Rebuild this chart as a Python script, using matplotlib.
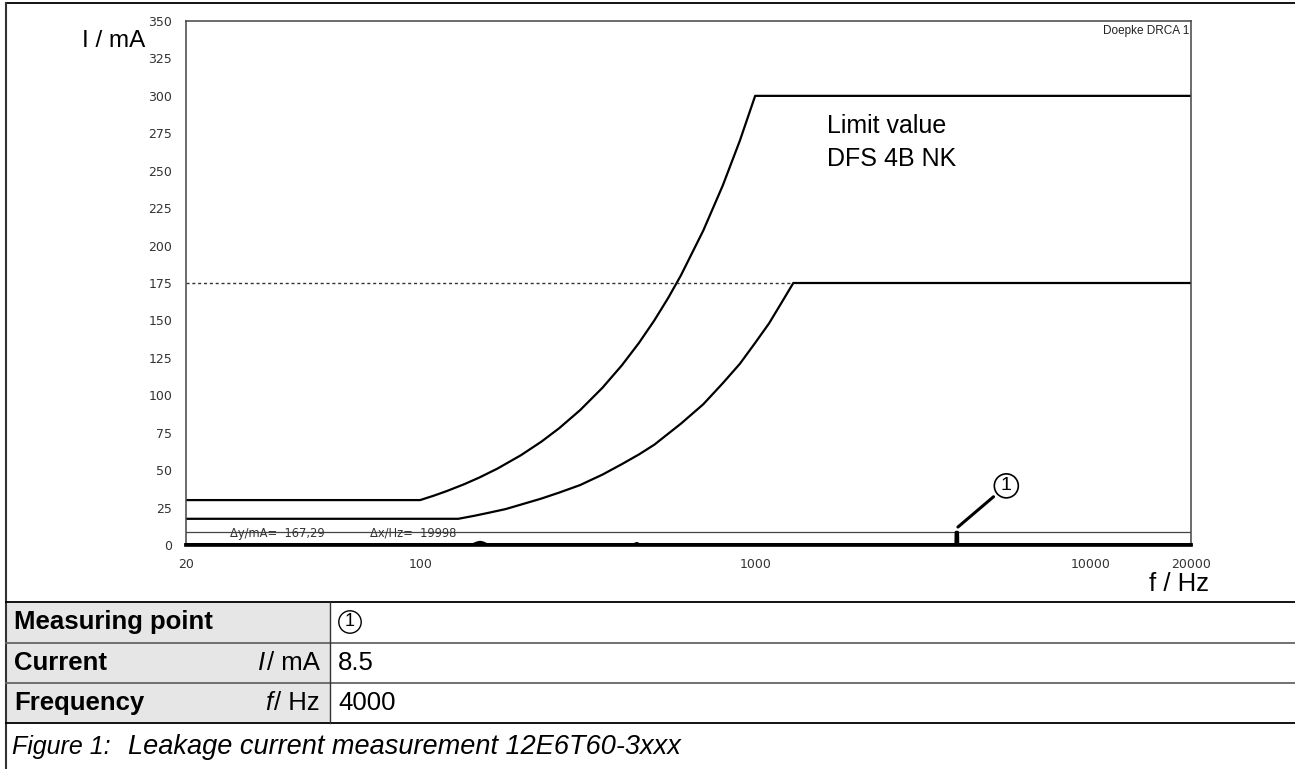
import matplotlib.pyplot as plt
import numpy as np

# limit curve DFS 4B NK (upper) and the lower limit curve
f_upper = [20, 100, 110, 120, 135, 150, 170, 200, 230, 260, 300, 350, 400, 450, 500, 550,
           600, 700, 800, 900, 1000, 20000]
i_upper = [30, 30, 33, 36, 40.5, 45, 51, 60, 69, 78, 90, 105, 120, 135, 150, 165,
           180, 210, 240, 270, 300, 300]
f_lower = [20, 130, 145, 160, 180, 200, 230, 260, 300, 350, 400, 450, 500, 600, 700, 800,
           900, 1000, 1100, 1200, 1300, 20000]
i_lower = [17.5, 17.5, 19.5, 21.5, 24, 27, 31, 35, 40, 47, 54, 60.5, 67, 81, 94, 108,
           121, 135, 148, 162, 175, 175]
# measured leakage current trace
f_meas = [20, 144, 148, 151, 154, 158, 436, 440, 443, 446, 450, 3975, 3980, 4020, 4025, 20000]
i_meas = [0.3, 0.3, 1.4, 1.8, 1.4, 0.3, 0.3, 0.8, 1.0, 0.8, 0.3, 0.3, 8.5, 8.5, 0.3, 0.3]
cursor_i = 8.5
dash_level = 175
dash_end = 1300

yticks = list(range(0, 351, 25))
xticks = [20, 100, 1000, 10000, 20000]

W, H = 1295, 769
def fx(x):
    return x / W
def fy(y):
    return 1 - y / H

fig = plt.figure(figsize=(W / 100, H / 100), dpi=100)
ax = fig.add_axes([fx(186), fy(545), fx(1191 - 186), (545 - 21) / H])

ax.plot(f_upper, i_upper, color='black', lw=1.6)
ax.plot(f_lower, i_lower, color='black', lw=1.6)
ax.plot([20, dash_end], [dash_level, dash_level], color='#333333', lw=1, dashes=(2.2, 2))
ax.axhline(cursor_i, color='#444444', lw=0.9)
ax.plot(f_meas, i_meas, color='black', lw=2.2, clip_on=False, zorder=5)
ax.plot([20, 20000], [0, 0], color='black', lw=2.6, clip_on=False, zorder=5)

ax.set_xscale('log')
ax.set_xlim(20, 20000)
ax.set_ylim(0, 350)
ax.set_xticks(xticks)
ax.set_xticklabels([str(v) for v in xticks])
ax.minorticks_off()
ax.set_yticks(yticks)
ax.set_yticklabels([str(v) for v in yticks])
ax.tick_params(length=0, labelsize=9, labelcolor='#333333')
ax.tick_params(axis='x', pad=9)
ax.tick_params(axis='y', pad=10)
for s in ['left', 'top', 'right']:
    ax.spines[s].set_color('#444444')
    ax.spines[s].set_linewidth(1.1)
ax.spines['bottom'].set_visible(False)

fig.text(fx(1189), fy(31), 'Doepke DRCA 1', ha='right', va='center',
         fontsize=8.5, family='Liberation Sans', color='#222222')
fig.text(fx(827), fy(133), 'Limit value', ha='left', va='baseline', fontsize=18,
         family='Liberation Sans')
fig.text(fx(827), fy(166), 'DFS 4B NK', ha='left', va='baseline', fontsize=18,
         family='Liberation Sans')

# measuring point marker
ax.annotate('1', xy=(4030, 12), xytext=(5620, 39.5), textcoords='data', fontsize=14,
            family='Liberation Sans', ha='center', va='center',
            bbox=dict(boxstyle='circle,pad=0.18', fc='white', ec='black', lw=1.2),
            arrowprops=dict(arrowstyle='-', color='black', lw=2.2, shrinkA=3, shrinkB=0))

# cursor readout
fig.text(fx(230), fy(533), 'Δy/mA=  167,29', fontsize=8.3, color='#333333', va='center')
fig.text(fx(370), fy(533), 'Δx/Hz=  19998', fontsize=8.3, color='#333333', va='center')

fig.text(fx(82), fy(41), 'I / mA', fontsize=17.5, family='Liberation Sans', va='center')
fig.text(fx(1149), fy(584), 'f / Hz', fontsize=18.5, family='Liberation Sans', va='center')

# outer frame
fig.add_artist(plt.Line2D([fx(6), 1], [fy(3), fy(3)], color='black', lw=1.3))
fig.add_artist(plt.Line2D([fx(6), fx(6)], [fy(3), 0], color='#333333', lw=1.5))

# table
rows = [602, 643, 683, 723]
fig.add_artist(plt.Rectangle((fx(6), fy(rows[-1])), fx(330 - 6), (rows[-1] - rows[0]) / H,
                             facecolor='#e6e6e6', edgecolor='none', zorder=0))
for yy, c in zip(rows, ['black', '#666666', '#666666', 'black']):
    fig.add_artist(plt.Line2D([fx(6), 1], [fy(yy), fy(yy)], color=c, lw=1.3))
fig.add_artist(plt.Line2D([fx(330), fx(330)], [fy(rows[0]), fy(rows[-1])], color='#333333', lw=1))

tf = dict(fontsize=18.5, family='Liberation Sans', va='center')
c1, c2, c3 = 622, 663, 703
fig.text(fx(14), fy(c1), 'Measuring point', fontweight='bold', **tf)
fig.text(fx(14), fy(c2), 'Current', fontweight='bold', **tf)
fig.text(fx(14), fy(c3), 'Frequency', fontweight='bold', **tf)
fig.text(fx(320), fy(c2), '/ mA', ha='right', **tf)
fig.text(fx(265), fy(c2), 'I', style='italic', ha='right', **tf)
fig.text(fx(320), fy(c3), '/ Hz', ha='right', **tf)
fig.text(fx(272), fy(c3), 'f', style='italic', ha='right', **tf)
fig.text(fx(350), fy(c1), '1', fontsize=13, family='Liberation Sans', va='center', ha='center',
         bbox=dict(boxstyle='circle,pad=0.15', fc='white', ec='black', lw=1))
fig.text(fx(338), fy(c2), '8.5', **tf)
fig.text(fx(338), fy(c3), '4000', **tf)
fig.text(fx(12), fy(747), 'Figure 1:', style='italic', fontsize=18, family='Liberation Sans',
         va='center')
fig.text(fx(128), fy(747), 'Leakage current measurement 12E6T60-3xxx', style='italic',
         fontsize=19.5, family='Liberation Sans', va='center')

fig.savefig('out.png', dpi=100)
